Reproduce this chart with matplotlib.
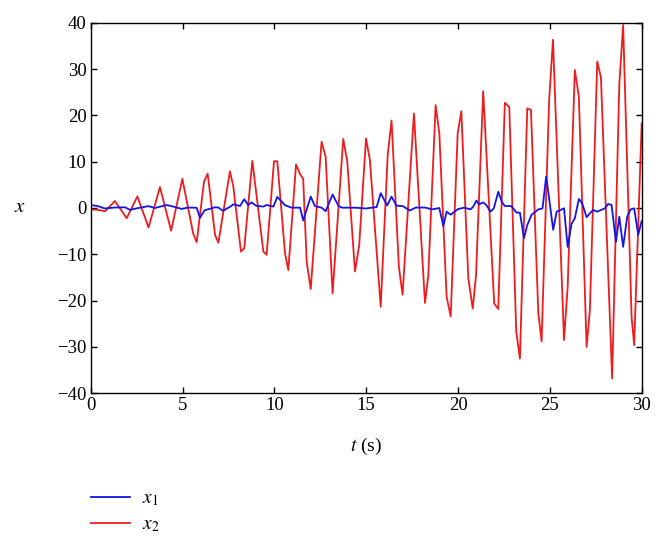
import numpy as np
import matplotlib
matplotlib.use("Agg")
import matplotlib.pyplot as plt

# -----------------------------------
# Data (polyline vertices)

t_x1 = [0.0, 0.4, 0.77, 1.3, 1.87, 2.14, 2.6, 3.14, 3.5, 4.13, 4.5, 4.95, 5.3,
        5.77, 5.95, 6.2, 6.77, 6.95, 7.2, 7.6, 7.77, 8.13, 8.36, 8.58, 8.76,
        9.0, 9.4, 9.58, 9.95, 10.16, 10.58, 10.94, 11.4, 11.57, 11.98, 12.21,
        12.57, 12.79, 13.17, 13.5, 13.7, 14.4, 14.99, 15.57, 15.79, 16.14,
        16.38, 16.65, 17.0, 17.37, 17.7, 18.2, 18.6, 18.98, 19.2, 19.38, 19.6,
        19.99, 20.33, 20.68, 20.83, 21.0, 21.15, 21.37, 21.55, 21.77, 21.95,
        22.19, 22.41, 22.55, 22.9, 23.19, 23.37, 23.59, 23.77, 24.0, 24.37,
        24.6, 24.8, 24.97, 25.18, 25.37, 25.77, 25.97, 26.18, 26.36, 26.58,
        26.76, 27.0, 27.18, 27.36, 27.58, 27.78, 28.0, 28.17, 28.36, 28.6,
        28.78, 28.99, 29.21, 29.39, 29.59, 29.81, 30.0]
x1 = [0.65, 0.4, -0.1, 0.1, 0.15, -0.4, 0.0, 0.4, 0.0, 0.65, 0.3, -0.2, 0.1,
      0.05, -2.1, -0.5, 0.15, 0.1, -0.6, 0.3, 0.8, 0.43, 1.9, 0.65, 1.2,
      0.5, 0.3, 0.65, 0.3, 2.4, 0.6, 0.07, 0.07, -2.7, 2.45, 0.4,
      0.07, -0.7, 2.9, 0.4, 0.07, 0.07, -0.1, 0.2, 3.2, 0.55,
      2.45, 0.5, 0.4, -0.55, 0.1, 0.1, -0.3, 0.0, -3.9, -0.8, -1.45,
      -0.25, 0.07, -0.3, 0.3, 1.6, 0.8, 1.2, 0.6, -0.8, -0.07,
      3.5, 1.15, 0.43, 0.4, -1.0, -1.0, -6.5, -3.7, -1.5, -0.3,
      -0.1, 6.8, 1.8, -4.7, -0.8, -0.07, -8.4, -3.45, -2.2, 1.95,
      1.0, -2.0, -1.15, -0.43, -0.8, -0.43, -0.07, 0.86, 0.65, -7.3,
      -1.9, -8.4, -1.9, -0.3, -0.07, -5.8, -2.8]

t_x2 = [0.0, 0.4, 0.78, 1.32, 1.96, 2.54, 3.15, 3.77, 4.38, 4.99, 5.58, 5.77,
        6.17, 6.37, 6.77, 6.95, 7.58, 7.76, 8.18, 8.36, 8.8, 9.4, 9.58, 9.98,
        10.16, 10.58, 10.76, 11.18, 11.4, 11.57, 11.76, 11.98, 12.57, 12.79,
        13.17, 13.75, 13.97, 14.39, 14.62, 14.99, 15.2, 15.79, 16.17, 16.38,
        16.78, 16.98, 17.6, 18.2, 18.38, 18.78, 18.98, 19.38, 19.6, 19.98,
        20.18, 20.56, 20.8, 20.98, 21.37, 21.97, 22.19, 22.55, 22.79, 23.17,
        23.37, 23.77, 23.97, 24.37, 24.55, 24.96, 25.17, 25.77, 25.97, 26.36,
        26.58, 27.0, 27.18, 27.58, 27.78, 28.39, 28.78, 28.99, 29.45, 29.59,
        30.0]
x2 = [-0.3, -0.4, -0.7, 1.5, -2.2, 2.5, -4.2, 4.5, -4.9, 6.3, -5.5, -7.4,
      5.7, 7.4, -5.8, -7.5, 7.9, 4.8, -9.4, -8.7, 10.2, -9.4, -10.1, 10.1,
      10.1, -9.8, -13.4, 9.4, 7.3, 6.3, -11.6, -17.5, 14.3, 11.1,
      -18.4, 14.9, 10.0, -13.7, -8.0, 15.0, 10.4, -21.3, 11.4, 18.9,
      -12.7, -18.7, 20.4, -20.5, -14.7, 22.2, 16.2, -19.2, -23.4, 16.1,
      20.9, -15.2, -21.7, -14.5, 25.2, -20.6, -21.8, 22.7, 21.8, -26.7,
      -32.5, 21.5, 21.2, -22.6, -28.8, 23.2, 36.3, -28.5, -17.0, 29.8,
      24.0, -30.0, -22.0, 31.6, 28.2, -36.8, 26.6, 39.5, -23.5, -29.6,
      18.3]

x_ticks = [0, 5, 10, 15, 20, 25, 30]
y_ticks = [-40, -30, -20, -10, 0, 10, 20, 30, 40]
labels = [r'$x_1$', r'$x_2$']

# -----------------------------------

plt.rcParams['font.family'] = ['Liberation Serif', 'DejaVu Serif']
plt.rcParams['mathtext.fontset'] = 'stix'
plt.rcParams['font.size'] = 13

fig = plt.figure(figsize=(6.64, 5.46), dpi=100)
ax = fig.add_axes([0.1366, 0.2797, 0.8298, 0.6787])

ax.plot(t_x1, x1, color='#1414e6', lw=1.3, label=labels[0], zorder=3)
ax.plot(t_x2, x2, color='#ee1c1c', lw=1.3, label=labels[1], zorder=2)

ax.set_xlim(0, 30)
ax.set_ylim(-40, 40)
ax.set_xticks(x_ticks)
ax.set_yticks(y_ticks)
ax.tick_params(direction='in', top=True, right=True, length=4, width=1,
               labelsize=13.5, pad=3)
for s in ax.spines.values():
    s.set_linewidth(1.0)

ax.set_xlabel(r'$t$ (s)', fontsize=14)
ax.xaxis.set_label_coords(0.5, -0.115)
ax.set_ylabel(r'$x$', fontsize=15, rotation=0, ha='center', va='center')
ax.yaxis.set_label_coords(-0.128, 0.5)

fig.legend(loc='upper left', bbox_to_anchor=(91 / 664, 1 - 490 / 546),
           frameon=False, borderaxespad=0, borderpad=0, handlelength=2.0,
           handletextpad=0.6, labelspacing=0.4, fontsize=14)

fig.savefig('out.png', dpi=100)
